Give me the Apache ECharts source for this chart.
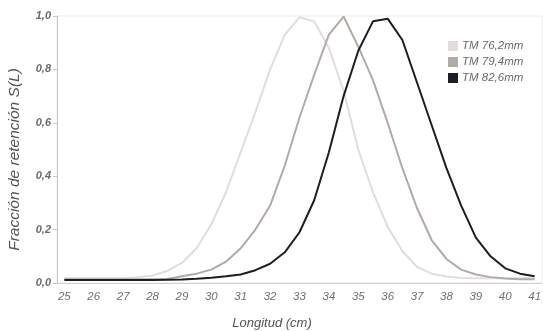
<!DOCTYPE html>
<html>
<head>
<meta charset="utf-8">
<script src="https://cdn.jsdelivr.net/npm/echarts@6/dist/echarts.min.js"></script>
<style>
  html, body { margin: 0; padding: 0; background: #ffffff; }
  #chart { width: 543px; height: 331px; }
</style>
</head>
<body>
<div id="chart"></div>
<script>
// Length classes (cm), every half centimetre
const lengths = ['25','25.5','26','26.5','27','27.5','28','28.5','29','29.5','30','30.5','31','31.5','32','32.5','33','33.5','34','34.5','35','35.5','36','36.5','37','37.5','38','38.5','39','39.5','40','40.5','41'];

// Retention fraction S(L) by mesh size
const tm762 = [0.018,0.018,0.018,0.018,0.018,0.022,0.028,0.045,0.075,0.13,0.22,0.34,0.49,0.64,0.80,0.93,0.995,0.98,0.88,0.72,0.50,0.34,0.21,0.12,0.06,0.035,0.024,0.019,0.018,0.018,0.018,0.018,0.018];
const tm794 = [0.014,0.014,0.014,0.014,0.014,0.014,0.014,0.015,0.025,0.035,0.05,0.08,0.13,0.20,0.29,0.44,0.62,0.78,0.93,0.998,0.885,0.76,0.60,0.43,0.28,0.16,0.09,0.05,0.032,0.022,0.017,0.014,0.014];
const tm826 = [0.011,0.011,0.011,0.011,0.011,0.011,0.011,0.012,0.013,0.016,0.02,0.025,0.032,0.048,0.072,0.115,0.19,0.31,0.49,0.70,0.87,0.98,0.99,0.91,0.75,0.59,0.43,0.29,0.17,0.10,0.055,0.035,0.025];

const seriesNames = ['TM 76,2mm', 'TM 79,4mm', 'TM 82,6mm'];
const seriesColors = ['#e3dcdc', '#b3aaa7', '#1d1d24'];
const yTicks = ['0,0', '0,2', '0,4', '0,6', '0,8', '1,0'];

const font = '"Liberation Sans", Arial, sans-serif';
const chart = echarts.init(document.getElementById('chart'), null, { renderer: 'canvas' });

const lineSeries = [tm762, tm794, tm826].map((vals, i) => ({
  name: seriesNames[i],
  type: 'line',
  data: vals,
  showSymbol: false,
  smooth: false,
  z: 2 + i,
  lineStyle: { color: seriesColors[i], width: 2 },
  itemStyle: { color: seriesColors[i] }
}));

chart.setOption({
  animation: false,
  backgroundColor: '#ffffff',
  grid: {
    left: 57, right: 1, top: 16, bottom: 48,
    outerBoundsMode: 'none',
    containLabel: false,
    show: true, borderColor: '#ececec', borderWidth: 1
  },
  legend: {
    orient: 'vertical',
    left: 448, top: 40,
    padding: 0,
    itemWidth: 10, itemHeight: 10, itemGap: 4,
    icon: 'rect',
    data: seriesNames,
    textStyle: { fontFamily: font, fontStyle: 'italic', fontSize: 11.5, color: '#6a6a6a', padding: [0, 0, 0, -1] }
  },
  xAxis: {
    type: 'category',
    data: lengths,
    boundaryGap: true,
    name: 'Longitud (cm)',
    nameLocation: 'middle',
    nameGap: 34,
    nameTextStyle: { fontFamily: font, fontStyle: 'italic', fontSize: 13, color: '#555555', padding: [0, 55, 0, 0] },
    axisLine: { lineStyle: { color: '#cfcfcf', width: 1 } },
    axisTick: { alignWithLabel: true, interval: 0, length: 4, lineStyle: { color: '#cfcfcf' } },
    axisLabel: {
      interval: 1, margin: 8,
      fontFamily: font, fontStyle: 'italic', fontSize: 11.5, color: '#707070'
    },
    splitLine: { show: false }
  },
  yAxis: {
    type: 'value',
    min: 0, max: 1, interval: 0.2,
    name: 'Fracción de retención S(L)',
    nameLocation: 'middle',
    nameGap: 34,
    nameRotate: 90,
    nameTextStyle: { fontFamily: font, fontStyle: 'italic', fontSize: 15.5, color: '#555555', padding: [0, 20, 0, 0] },
    axisLine: { show: true, lineStyle: { color: '#c8c8c8', width: 1 } },
    axisTick: { show: true, length: 4, lineStyle: { color: '#c8c8c8' } },
    axisLabel: {
      margin: 6,
      fontFamily: font, fontStyle: 'italic', fontWeight: 'bold', fontSize: 11, color: '#6a6a6a',
      formatter: (v) => yTicks[Math.round(v / 0.2)]
    },
    splitLine: { show: false }
  },
  series: lineSeries
});
</script>
</body>
</html>
